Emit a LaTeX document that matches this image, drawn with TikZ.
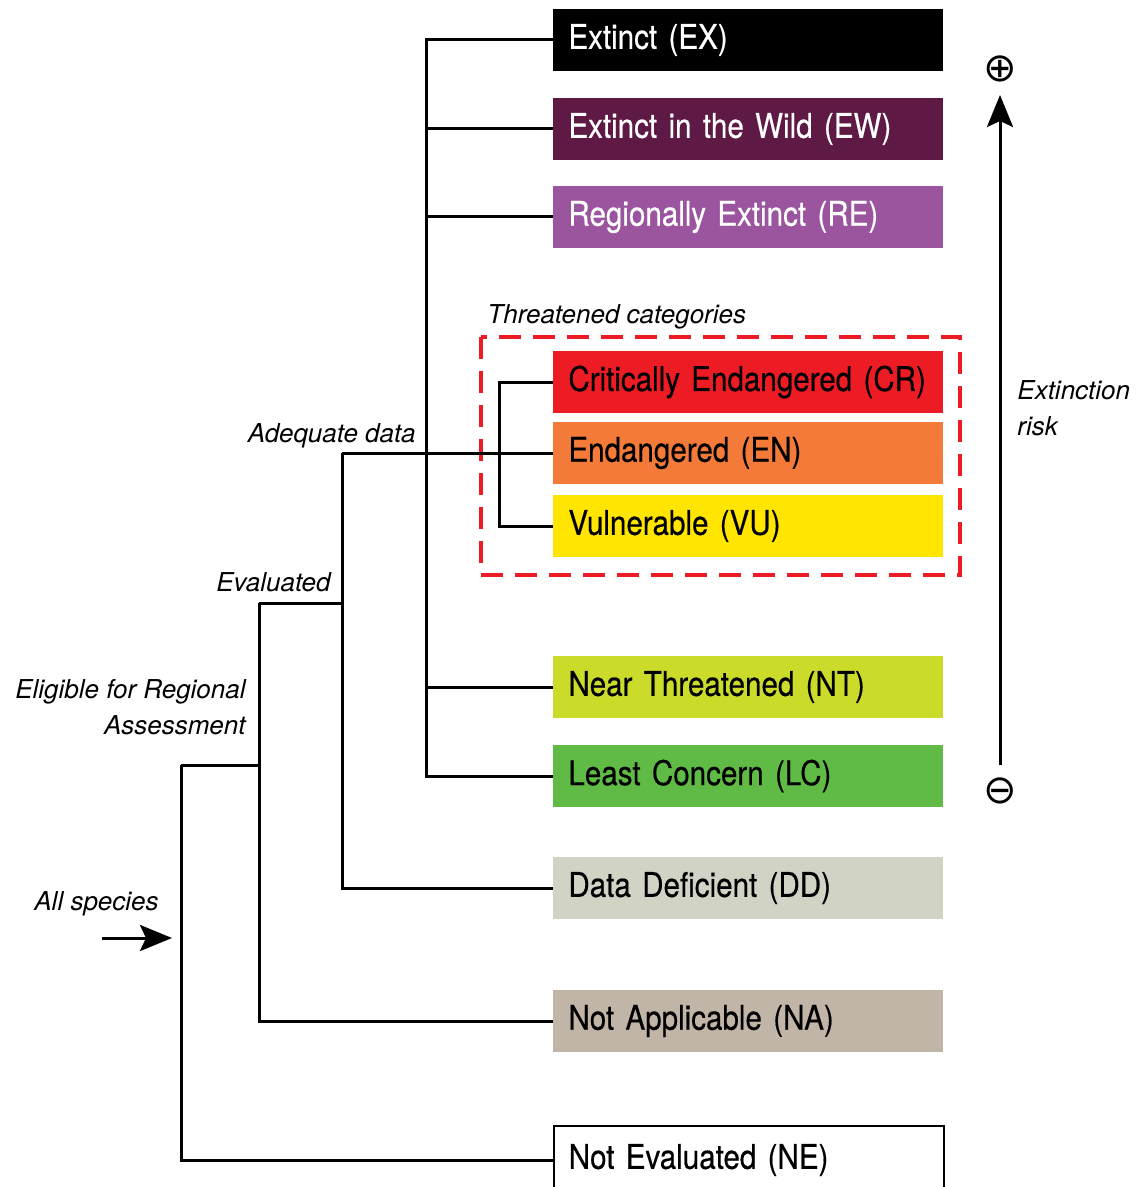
\documentclass[tikz,border=0pt]{standalone}
\usepackage{fontspec}
\setmainfont{TeX Gyre Heros}
\newfontfamily\catfont[FakeStretch=0.87, FakeBold=0.4, WordSpace=0.75]{TeX Gyre Heros}
\newfontfamily\symfont{DejaVu Sans}
\usepackage{tikz}
\usetikzlibrary{arrows.meta}
\definecolor{cEW}{HTML}{5E1944}
\definecolor{cRE}{HTML}{9A559E}
\definecolor{cCR}{HTML}{ED1C24}
\definecolor{cEN}{HTML}{F47A3A}
\definecolor{cVU}{HTML}{FFE500}
\definecolor{cNT}{HTML}{CBDB2A}
\definecolor{cLC}{HTML}{60BB46}
\definecolor{cDD}{HTML}{D1D4C4}
\definecolor{cNA}{HTML}{C1B5A7}
\tikzset{
	cat/.style={anchor=west, minimum width=195pt, minimum height=31pt, inner xsep=7.5pt, inner ysep=0pt,
		text width=180pt, align=left, font=\catfont\fontsize{17}{20}\selectfont},
	lbl/.style={inner sep=0pt, font=\itshape\fontsize{13}{18}\selectfont},
	tree/.style={line width=1.5pt, color=black},
	arr/.style={line width=1.5pt, -{Stealth[length=16pt, width=13pt, inset=3pt]}},
	sym/.style={inner sep=0pt, font=\symfont\fontsize{20}{20}\selectfont}
}

\begin{document}
\begin{tikzpicture}[x=0.5pt, y=-0.5pt]
		%%%%% START %%%%%
		\useasboundingbox (0, 0) rectangle (1136, 1187);
		
		\node[cat, fill=black, text=white] (EX) at (553, 40) {Extinct (EX)};
		\node[cat, fill=cEW, text=white] (EW) at (553, 129) {Extinct in the Wild (EW)};
		\node[cat, fill=cRE, text=white] (RE) at (553, 217) {Regionally Extinct (RE)};
		
		\node[cat, fill=cCR] (CR) at (553, 382) {Critically Endangered (CR)};
		\node[cat, fill=cEN] (EN) at (553, 453) {Endangered (EN)};
		\node[cat, fill=cVU] (VU) at (553, 526) {Vulnerable (VU)};
		
		\node[cat, fill=cNT] (NT) at (553, 687) {Near Threatened (NT)};
		\node[cat, fill=cLC] (LC) at (553, 776) {Least Concern (LC)};
		\node[cat, fill=cDD] (DD) at (553, 888) {Data Deficient (DD)};
		\node[cat, fill=cNA] (NA) at (553, 1021) {Not Applicable (NA)};
		\node[cat, draw=black, line width=0.75pt, minimum height=34pt] (NE) at (553, 1160) {Not Evaluated (NE)};
		
		% threatened group
		\draw[line width=2pt, color=cCR, dash pattern=on 11pt off 6pt] (481, 337) rectangle (960, 575);
		\node[lbl, anchor=base west] (thrlbl) at (487, 324) {Threatened categories};
		
		% branch levels
		\coordinate (xA) at (426, 0);
		\coordinate (xT) at (499, 0);
		\coordinate (xD) at (342, 0);
		\coordinate (evl) at (259, 603);
		\coordinate (elg) at (181, 765);
		\coordinate (allsp) at (102, 938);
		
		\draw[tree] (EX.west) -| (xA |- LC.west) -- (LC.west);
		\foreach \c in {EW, RE, NT}
			\draw[tree] (\c.west) -- (xA |- \c.west);
		\draw[tree] (CR.west) -| (xT |- VU.west) -- (VU.west);
		\draw[tree] (xD |- EN.west) -- (EN.west);
		\draw[tree] (xD |- EN.west) |- (DD.west);
		\draw[tree] (evl) -- (xD |- evl);
		\draw[tree] (evl) |- (NA.west);
		\draw[tree] (elg) -- (evl |- elg);
		\draw[tree] (elg) |- (NE.west);
		\draw[arr, shorten >=4.5pt] (allsp) -- (elg |- allsp);
		
		\node[lbl, anchor=base east] (adqlbl) at (416, 442) {Adequate data};
		\node[lbl, anchor=base east] (evllbl) at (331, 591) {Evaluated};
		\node[lbl, anchor=east, align=right] (elglbl) at (246, 707) {Eligible for Regional\\Assessment};
		\node[lbl, anchor=base west] (alllbl) at (34, 910) {All species};
		
		% extinction risk
		\node[sym] (plus) at (1000, 69) {⊕};
		\node[sym] (minus) at (1000, 791) {⊖};
		\draw[arr, shorten <=13pt, shorten >=13pt] (minus.center) -- (plus.center);
		\node[lbl, anchor=west, align=left] (risklbl) at (1017, 408) {Extinction\\risk};
		
		%%%%% END %%%%%
	\end{tikzpicture}
\end{document}
